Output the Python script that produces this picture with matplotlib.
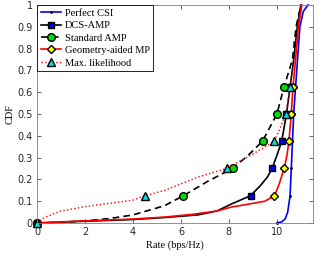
import matplotlib
matplotlib.use('Agg')
import matplotlib.pyplot as plt
from matplotlib.ticker import FormatStrFormatter

# CDF of achievable rate
mark_levels = [0, 0.125, 0.25, 0.375, 0.5, 0.625]

csi_rate = [10.0, 10.2, 10.35, 10.45, 10.55, 10.6, 10.65, 10.7, 10.78, 10.86, 10.96, 11.1, 11.3]
csi_cdf = [0, 0.005, 0.02, 0.05, 0.125, 0.25, 0.375, 0.5, 0.625, 0.75, 0.9, 0.97, 1.0]

dcs_rate = [0, 2, 4, 5.3, 6.7, 7.5, 8.1, 8.9, 9.3, 9.6, 9.8, 10.0, 10.2, 10.4, 10.55, 10.7, 10.85, 11.0]
dcs_cdf = [0, 0.008, 0.016, 0.025, 0.037, 0.055, 0.087, 0.125, 0.17, 0.21, 0.25, 0.31, 0.375, 0.5, 0.625, 0.75, 0.9, 1.0]

amp_rate = [0, 1, 2, 3, 4, 5, 5.33, 6.1, 7.1, 8.15, 8.8, 9.4, 10.0, 10.3, 10.65, 10.8, 11.0]
amp_cdf = [0, 0.003, 0.01, 0.02, 0.037, 0.069, 0.08, 0.125, 0.19, 0.25, 0.31, 0.375, 0.5, 0.625, 0.75, 0.9, 1.0]

geo_rate = [0, 1, 2, 4, 5.3, 6.5, 7.5, 8.1, 9.0, 9.5, 9.9, 10.1, 10.3, 10.42, 10.5, 10.6, 10.67, 10.78, 10.9, 11.04]
geo_cdf = [0, 0.005, 0.01, 0.018, 0.027, 0.04, 0.055, 0.073, 0.09, 0.1, 0.125, 0.18, 0.25, 0.31, 0.375, 0.5, 0.625, 0.75, 0.9, 1.0]

ml_rate = [0, 0.3, 1, 2, 3, 4, 4.5, 5.33, 6.7, 7.9, 8.9, 9.9, 10.375, 10.55, 10.75, 10.88, 11.04]
ml_cdf = [0, 0.025, 0.055, 0.075, 0.09, 0.105, 0.125, 0.15, 0.21, 0.25, 0.31, 0.375, 0.5, 0.625, 0.75, 0.9, 1.0]


def marks(cdf):
    return [i for i, c in enumerate(cdf) if c in mark_levels]


fig = plt.figure(figsize=(3.29, 2.59), dpi=100)
ax = fig.add_axes([0.1125, 0.139, 0.8385, 0.842])

ax.plot(csi_rate, csi_cdf, color='#0000ff', lw=1.2, marker='.', ms=2, mfc='k', mec='k',
        markevery=marks(csi_cdf), clip_on=False, label='Perfect CSI')
ax.plot(dcs_rate, dcs_cdf, color='k', lw=1.2, marker='s', ms=5, mfc='#0000e0', mec='k',
        markevery=marks(dcs_cdf), clip_on=False, label='DCS-AMP')
ax.plot(amp_rate, amp_cdf, color='k', lw=1.2, ls=(0, (4, 2.5)), marker='o', ms=5.5, mfc='#00e000', mec='k',
        markevery=marks(amp_cdf), clip_on=False, label='Standard AMP')
ax.plot(geo_rate, geo_cdf, color='#ff0000', lw=1.2, marker='D', ms=4.5, mfc='#ffff00', mec='k',
        markevery=marks(geo_cdf), clip_on=False, label='Geometry-aided MP')
ax.plot(ml_rate, ml_cdf, color='#ff0000', lw=1.0, ls=':', marker='^', ms=5.5, mfc='#00e0e0', mec='k',
        markevery=marks(ml_cdf), clip_on=False, label='Max. likelihood')

ax.set_xlim(0, 11.5)
ax.set_ylim(0, 1)
ax.set_xticks([0, 2, 4, 6, 8, 10])
ax.set_yticks([i / 10 for i in range(11)])
ax.yaxis.set_major_formatter(FormatStrFormatter('%g'))
ax.tick_params(direction='in', length=3, width=0.5, labelsize=7, colors='#262626',
               top=True, right=True, pad=3)
for s in ax.spines.values():
    s.set_color('#808080')
    s.set_linewidth(0.6)

ax.set_xlabel('Rate (bps/Hz)', family='Liberation Serif', fontsize=7.5, labelpad=2)
ax.set_ylabel('CDF', family='Liberation Serif', fontsize=7.5, labelpad=2)

leg = ax.legend(loc='upper left', prop={'family': 'Liberation Serif', 'size': 7.5},
                handlelength=2.0, handletextpad=0.3, labelspacing=0.3, borderpad=0.35,
                borderaxespad=0.0, fancybox=False, framealpha=1)
leg.get_frame().set_edgecolor('k')
leg.get_frame().set_linewidth(0.6)
leg.set_zorder(5)

fig.savefig('out.png', dpi=100)
